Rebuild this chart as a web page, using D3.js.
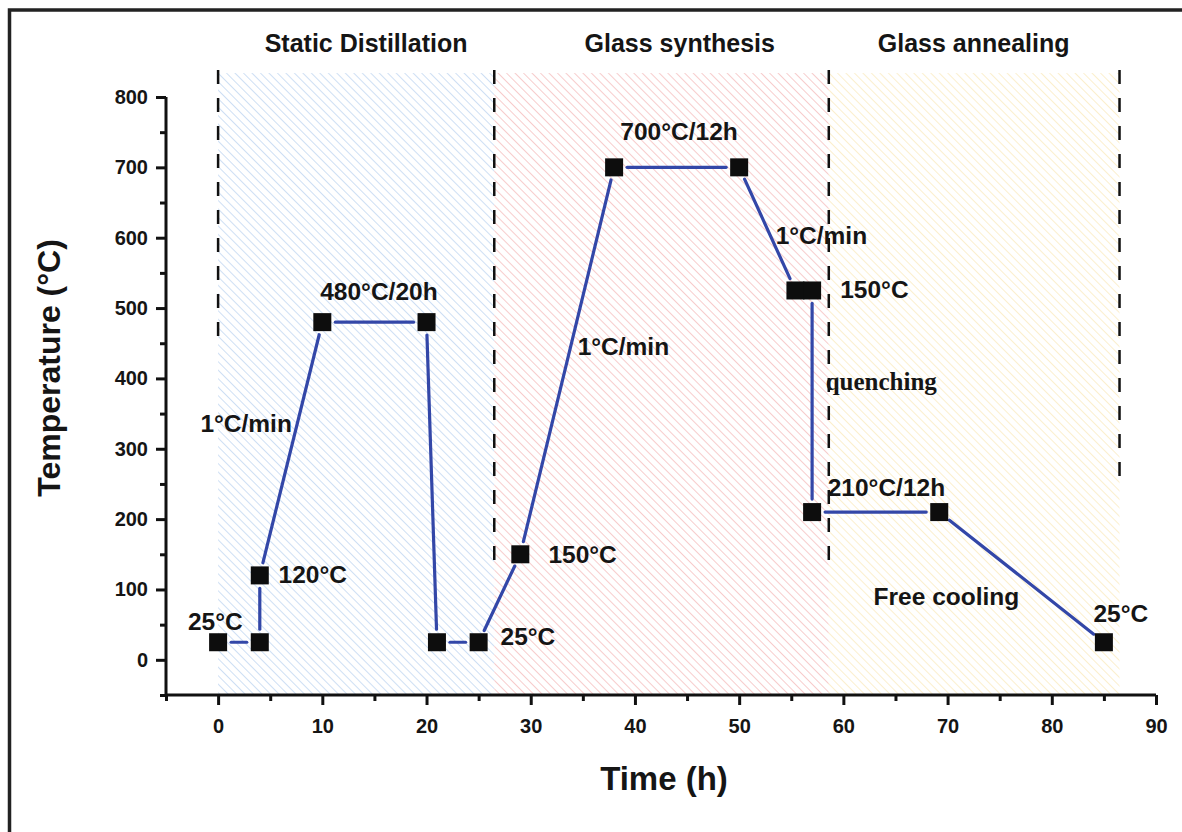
<!DOCTYPE html>
<html>
<head>
<meta charset="utf-8">
<script src="https://cdn.jsdelivr.net/npm/d3@7"></script>
<style>
  body { margin: 0; background: #fff; }
  svg { display: block; }
  text { font-family: "Liberation Sans", Arial, sans-serif; font-weight: bold; fill: #151515; }
</style>
</head>
<body>
<svg id="chart" width="1182" height="832"></svg>
<script>
// ---- data ----
const times = [0, 4, 4, 10, 20, 21, 25, 29, 38, 50, 55.4, 57, 57, 69.2, 85];
const temps = [25, 25, 120, 480, 480, 25, 25, 150, 700, 700, 525, 525, 210, 210, 25];

const stageNames = ["Static Distillation", "Glass synthesis", "Glass annealing"];
const stageStart = [0, 26.5, 58.6];
const stageEnd = [26.5, 58.6, 86.5];
const stageLabelX = [14.2, 44.3, 72.5];
const stageColors = ["#c9dcf3", "#f7c6c6", "#fbeec8"];

const annotTexts = ["25°C", "120°C", "1°C/min", "480°C/20h", "25°C", "150°C", "1°C/min", "700°C/12h", "1°C/min", "150°C", "quenching", "210°C/12h", "Free cooling", "25°C"];
const annotX = [-2.9, 5.8, -1.7, 9.8, 27.1, 31.7, 34.5, 38.6, 53.5, 59.7, 58.3, 58.5, 62.9, 84.0];
const annotY = [42, 109, 324, 511, 21, 138, 433, 739, 591, 514, 383, 233, 78, 54];

const xMajor = [0, 10, 20, 30, 40, 50, 60, 70, 80, 90];
const xMinor = [-5, 5, 15, 25, 35, 45, 55, 65, 75, 85];
const yMajor = [0, 100, 200, 300, 400, 500, 600, 700, 800];
const yMinor = [-50, 50, 150, 250, 350, 450, 550, 650, 750];

// ---- drawing ----
const svg = d3.select("#chart");
const x = d3.scaleLinear().domain([-5, 90]).range([166, 1156]);
const y = d3.scaleLinear().domain([-50, 800]).range([695, 97]);

// frame
svg.append("rect").attr("x", 9.5).attr("y", 10).attr("width", 1300).attr("height", 1000)
  .attr("fill", "none").attr("stroke", "#222").attr("stroke-width", 3.5);

// hatch patterns
const defs = svg.append("defs");
stageColors.forEach((c, i) => {
  const p = defs.append("pattern").attr("id", "hatch" + i)
    .attr("patternUnits", "userSpaceOnUse").attr("width", 6).attr("height", 6)
    .attr("patternTransform", "rotate(-45)");
  p.append("rect").attr("width", 6).attr("height", 6).attr("fill", "#fff");
  p.append("line").attr("x1", 0).attr("y1", 0).attr("x2", 0).attr("y2", 6)
    .attr("stroke", c).attr("stroke-width", 1.8);
});

const topVal = 834;
svg.selectAll("rect.stage").data(stageNames).enter().append("rect")
  .attr("class", "stage")
  .attr("x", (d, i) => x(stageStart[i]))
  .attr("width", (d, i) => x(stageEnd[i]) - x(stageStart[i]))
  .attr("y", y(topVal))
  .attr("height", y(-50) - y(topVal))
  .attr("fill", (d, i) => "url(#hatch" + i + ")");

// dashed boundaries
const bounds = [0, 26.5, 58.6, 86.5];
const boundBottom = [345, 560, 560, 490];
svg.selectAll("line.bound").data(bounds).enter().append("line")
  .attr("x1", d => x(d)).attr("x2", d => x(d))
  .attr("y1", y(topVal) - 3).attr("y2", (d, i) => boundBottom[i])
  .attr("stroke", "#111").attr("stroke-width", 2.5).attr("stroke-dasharray", "14,14");

// stage titles
svg.selectAll("text.stage").data(stageNames).enter().append("text")
  .attr("x", (d, i) => x(stageLabelX[i]))
  .attr("y", 52).attr("text-anchor", "middle").attr("font-size", 25)
  .text(d => d);

// axes
function styleAxis(g) {
  g.select(".domain").attr("stroke", "#111").attr("stroke-width", 3);
  g.selectAll(".tick line").attr("stroke", "#111").attr("stroke-width", 3);
  g.selectAll(".tick text").attr("font-size", 20).attr("font-family", "Liberation Sans, Arial, sans-serif")
    .attr("font-weight", "bold").attr("fill", "#151515");
}
const gxMinor = svg.append("g").attr("transform", `translate(0,${y(-50)})`)
  .call(d3.axisBottom(x).tickValues(xMinor).tickSize(6).tickFormat(""));
const gx = svg.append("g").attr("transform", `translate(0,${y(-50)})`)
  .call(d3.axisBottom(x).tickValues(xMajor).tickSize(10).tickPadding(14).tickFormat(d3.format("d")));
const gyMinor = svg.append("g").attr("transform", `translate(${x(-5)},0)`)
  .call(d3.axisLeft(y).tickValues(yMinor).tickSize(6).tickFormat(""));
const gy = svg.append("g").attr("transform", `translate(${x(-5)},0)`)
  .call(d3.axisLeft(y).tickValues(yMajor).tickSize(10).tickPadding(8).tickFormat(d3.format("d")));
[gxMinor, gx, gyMinor, gy].forEach(styleAxis);
[gxMinor, gyMinor].forEach(g => g.select(".domain").remove());
gx.select(".domain").attr("d", `M${x(-5)},0H${x(90)}`);
gy.select(".domain").attr("d", `M0,${y(-50)}V${y(800)}`);

// axis titles
svg.append("text").attr("x", 664).attr("y", 790).attr("text-anchor", "middle")
  .attr("font-size", 33).text("Time (h)");
svg.append("text").attr("transform", `translate(60,${368}) rotate(-90)`)
  .attr("text-anchor", "middle").attr("font-size", 32).text("Temperature (°C)");

// line segments with gaps near markers
const pts = times.map((t, i) => [x(t), y(temps[i])]);
const gap = 13;
const segs = [];
for (let i = 0; i < pts.length - 1; i++) {
  const [x1, y1] = pts[i], [x2, y2] = pts[i + 1];
  const len = Math.hypot(x2 - x1, y2 - y1);
  if (len <= 2 * gap) continue;
  const ux = (x2 - x1) / len, uy = (y2 - y1) / len;
  segs.push([x1 + ux * gap, y1 + uy * gap, x2 - ux * gap, y2 - uy * gap]);
}
svg.selectAll("line.seg").data(segs).enter().append("line")
  .attr("x1", d => d[0]).attr("y1", d => d[1]).attr("x2", d => d[2]).attr("y2", d => d[3])
  .attr("stroke", "#3347a8").attr("stroke-width", 3.2).attr("stroke-linecap", "round");

// markers
const ms = 18;
svg.selectAll("rect.mk").data(times).enter().append("rect")
  .attr("x", (d, i) => x(d) - ms / 2).attr("y", (d, i) => y(temps[i]) - ms / 2)
  .attr("width", ms).attr("height", ms).attr("fill", "#0d0d0d");

// annotations
svg.selectAll("text.ann").data(annotTexts).enter().append("text")
  .attr("x", (d, i) => x(annotX[i])).attr("y", (d, i) => y(annotY[i]))
  .attr("font-size", d => d === "quenching" ? 25 : 24.5)
  .style("font-family", d => d === "quenching" ? "'Liberation Serif', 'Times New Roman', serif" : null)
  .text(d => d);
</script>
</body>
</html>
